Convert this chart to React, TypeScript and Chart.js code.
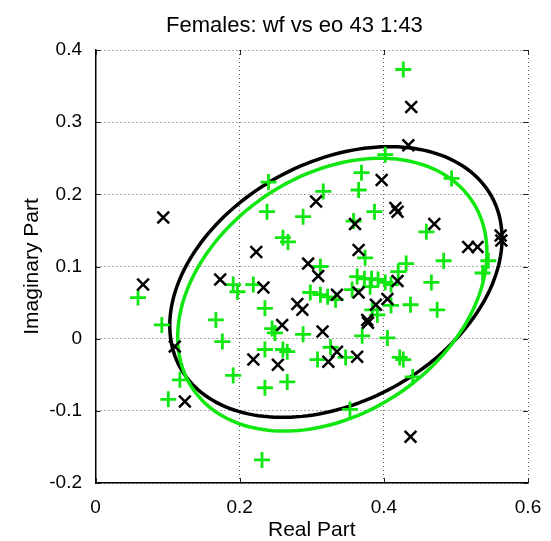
import React, { useEffect, useRef } from "react";
import { Chart, registerables } from "chart.js";

Chart.register(...registerables);

const titleText = "Females: wf vs eo 43 1:43";
const xAxisLabel = "Real Part";
const yAxisLabel = "Imaginary Part";
const xTickValues = [0, 0.2, 0.4, 0.6];
const yTickValues = [-0.2, -0.1, 0, 0.1, 0.2, 0.3, 0.4];

const blackX = [0.094, 0.223, 0.306, 0.295, 0.438, 0.434, 0.397, 0.416, 0.419, 0.36, 0.47, 0.517, 0.53, 0.562, 0.563, 0.365, 0.309, 0.066, 0.173, 0.233, 0.28, 0.287, 0.259, 0.219, 0.253, 0.11, 0.124, 0.315, 0.335, 0.323, 0.363, 0.437, 0.335, 0.365, 0.389, 0.405, 0.419, 0.377, 0.378];
const blackY = [0.168, 0.12, 0.19, 0.104, 0.321, 0.268, 0.22, 0.181, 0.176, 0.159, 0.159, 0.127, 0.127, 0.143, 0.136, 0.123, 0.087, 0.075, 0.082, 0.071, 0.048, 0.04, 0.019, -0.029, -0.036, -0.011, -0.087, 0.01, -0.018, -0.032, -0.025, -0.136, 0.061, 0.064, 0.047, 0.055, 0.08, 0.026, 0.022];

const greenX = [0.427, 0.402, 0.24, 0.369, 0.365, 0.316, 0.494, 0.238, 0.288, 0.387, 0.358, 0.459, 0.26, 0.267, 0.374, 0.431, 0.483, 0.545, 0.537, 0.312, 0.466, 0.474, 0.059, 0.191, 0.197, 0.219, 0.235, 0.092, 0.167, 0.176, 0.245, 0.249, 0.288, 0.235, 0.26, 0.266, 0.117, 0.191, 0.235, 0.266, 0.101, 0.231, 0.298, 0.312, 0.322, 0.333, 0.356, 0.363, 0.373, 0.383, 0.392, 0.402, 0.41, 0.42, 0.381, 0.384, 0.391, 0.41, 0.437, 0.37, 0.405, 0.326, 0.308, 0.347, 0.422, 0.427, 0.44, 0.353];
const greenY = [0.373, 0.255, 0.217, 0.23, 0.206, 0.204, 0.222, 0.176, 0.169, 0.176, 0.163, 0.148, 0.14, 0.134, 0.112, 0.104, 0.108, 0.108, 0.091, 0.1, 0.078, 0.04, 0.057, 0.075, 0.065, 0.075, 0.042, 0.019, 0.026, -0.004, 0.014, 0.008, 0.006, -0.015, -0.015, -0.018, -0.057, -0.051, -0.068, -0.06, -0.084, -0.168, 0.064, 0.061, 0.058, 0.054, 0.068, 0.086, 0.083, 0.083, 0.082, 0.078, 0.075, 0.093, 0.072, 0.04, 0.033, 0.046, 0.047, 0.004, 0.001, -0.012, -0.029, -0.026, -0.026, -0.029, -0.053, -0.098];

// ellipse parameters: [centerX, centerY, semiMajor, semiMinor, angleDeg]
const blackEllipse = [0.3335, 0.0785, 0.2464, 0.1661, 28.6];
const greenEllipse = [0.3285, 0.061, 0.2334, 0.1651, 33.9];

const BLACK = "#000000";
const GREEN = "#10e610";
const FONT = "'Liberation Sans', Arial, sans-serif";

function strokeEllipse(chart: any, params: number[], color: string) {
  const { ctx, chartArea, scales } = chart;
  const [cx, cy, a, b, deg] = params;
  const th = (deg * Math.PI) / 180;
  const steps = 180;
  ctx.save();
  ctx.beginPath();
  ctx.rect(chartArea.left, chartArea.top, chartArea.right - chartArea.left, chartArea.bottom - chartArea.top);
  ctx.clip();
  ctx.beginPath();
  for (let i = 0; i <= steps; i++) {
    const t = (i / steps) * Math.PI * 2;
    const dx = a * Math.cos(t);
    const dy = b * Math.sin(t);
    const x = cx + dx * Math.cos(th) - dy * Math.sin(th);
    const y = cy + dx * Math.sin(th) + dy * Math.cos(th);
    const px = scales.x.getPixelForValue(x);
    const py = scales.y.getPixelForValue(y);
    if (i === 0) ctx.moveTo(px, py);
    else ctx.lineTo(px, py);
  }
  ctx.closePath();
  ctx.strokeStyle = color;
  ctx.lineWidth = 3.5;
  ctx.stroke();
  ctx.restore();
}

const ellipsePlugin = {
  id: "ellipses",
  beforeDatasetsDraw(chart: any) {
    strokeEllipse(chart, blackEllipse, BLACK);
    strokeEllipse(chart, greenEllipse, GREEN);
  },
};

const frameTicksPlugin = {
  id: "frameTicks",
  afterDatasetsDraw(chart: any) {
    const { ctx, chartArea, scales } = chart;
    const len = 5;
    ctx.save();
    ctx.strokeStyle = "#222";
    ctx.lineWidth = 1;
    ctx.beginPath();
    scales.x.ticks.forEach((t: any) => {
      const px = Math.round(scales.x.getPixelForValue(t.value)) + 0.5;
      ctx.moveTo(px, chartArea.bottom);
      ctx.lineTo(px, chartArea.bottom - len);
      ctx.moveTo(px, chartArea.top);
      ctx.lineTo(px, chartArea.top + len);
    });
    scales.y.ticks.forEach((t: any) => {
      const py = Math.round(scales.y.getPixelForValue(t.value)) + 0.5;
      ctx.moveTo(chartArea.left, py);
      ctx.lineTo(chartArea.left + len, py);
      ctx.moveTo(chartArea.right, py);
      ctx.lineTo(chartArea.right - len, py);
    });
    ctx.stroke();
    ctx.restore();
  },
};

const titlePlugin = {
  id: "plotTitle",
  afterDraw(chart: any) {
    const { ctx, chartArea } = chart;
    ctx.save();
    ctx.fillStyle = "#000";
    ctx.font = `22px ${FONT}`;
    ctx.textAlign = "center";
    ctx.textBaseline = "alphabetic";
    const cx = chartArea.left + (chartArea.right - chartArea.left) * 0.46;
    ctx.fillText(titleText, cx, chartArea.top - 18);
    ctx.restore();
  },
};

const fmt = (v: number) => String(Number(Number(v).toFixed(1)));

export default function App() {
  const ref = useRef<HTMLCanvasElement | null>(null);
  useEffect(() => {
    document.body.style.margin = "0";
    if (!ref.current) return;
    const chart = new Chart(ref.current, {
      type: "scatter",
      data: {
        datasets: [
          {
            label: "x",
            data: blackX.map((x, i) => ({ x, y: blackY[i] })),
            pointStyle: "crossRot",
            pointRadius: 8.3,
            borderColor: BLACK,
            backgroundColor: BLACK,
            borderWidth: 2.5,
            showLine: false,
          },
          {
            label: "+",
            data: greenX.map((x, i) => ({ x, y: greenY[i] })),
            pointStyle: "cross",
            pointRadius: 8,
            borderColor: GREEN,
            backgroundColor: GREEN,
            borderWidth: 2.8,
            showLine: false,
          },
        ],
      },
      options: {
        animation: false,
        responsive: false,
        events: [],
        layout: { padding: { top: 50, right: 23, bottom: 0, left: 0 } },
        plugins: {
          legend: { display: false },
          tooltip: { enabled: false },
          title: { display: false },
        },
        scales: {
          x: {
            type: "linear",
            min: 0,
            max: 0.6,
            afterBuildTicks: (s: any) => {
              s.ticks = xTickValues.map((v) => ({ value: v }));
            },
            afterFit: (s: any) => {
              s.height = 58;
              s.paddingRight = 13;
            },
            ticks: {
              callback: (v: any) => fmt(v),
              font: { family: FONT, size: 19 },
              color: "#000",
              padding: 13,
              maxRotation: 0,
            },
            grid: { color: "#555", lineWidth: 1, drawTicks: false },
            border: { display: true, color: "#000", width: 1.5, dash: [1, 3] },
            title: {
              display: true,
              text: xAxisLabel,
              font: { family: FONT, size: 21, lineHeight: 1.0 },
              color: "#000",
              padding: { top: 1, bottom: 0 },
            },
          },
          y: {
            type: "linear",
            min: -0.2,
            max: 0.4,
            afterBuildTicks: (s: any) => {
              s.ticks = yTickValues.map((v) => ({ value: v }));
            },
            afterFit: (s: any) => {
              s.width = 95.5;
            },
            ticks: {
              callback: (v: any) => fmt(v),
              font: { family: FONT, size: 19 },
              color: "#000",
              padding: 13.5,
            },
            grid: { color: "#555", lineWidth: 1, drawTicks: false },
            border: { display: true, color: "#000", width: 1.5, dash: [1, 3] },
            title: {
              display: true,
              text: yAxisLabel,
              font: { family: FONT, size: 21, lineHeight: 1.0 },
              color: "#000",
              padding: { top: 21.5, bottom: 6.8 },
            },
          },
        },
      },
      plugins: [ellipsePlugin, frameTicksPlugin, titlePlugin],
    });
    return () => chart.destroy();
  }, []);
  return (
    <div style={{ width: 551, height: 541, background: "#fff" }}>
      <canvas ref={ref} width={551} height={541} style={{ display: "block", width: 551, height: 541 }} />
    </div>
  );
}
